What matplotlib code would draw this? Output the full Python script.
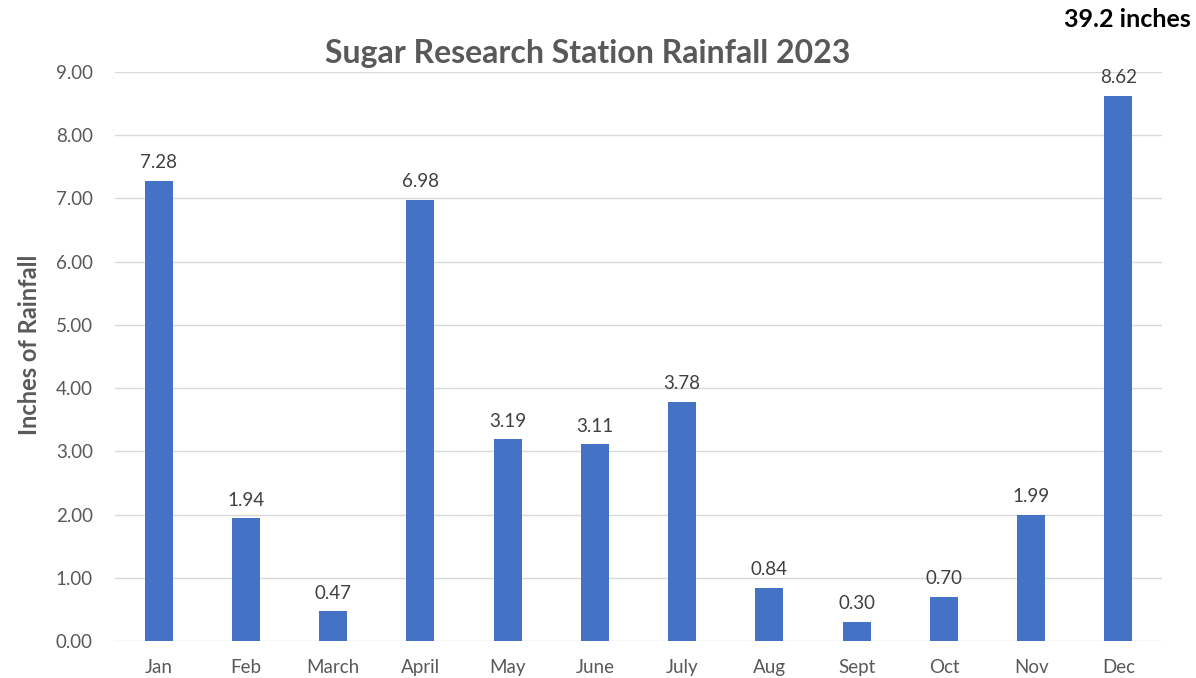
import matplotlib.pyplot as plt
import numpy as np

plt.rcParams['font.family'] = ['Lato', 'DejaVu Sans']

# monthly rainfall, inches
months = ['Jan', 'Feb', 'March', 'April', 'May', 'June', 'July', 'Aug', 'Sept', 'Oct', 'Nov', 'Dec']
rain = [7.28, 1.94, 0.47, 6.98, 3.19, 3.11, 3.78, 0.84, 0.30, 0.70, 1.99, 8.62]
total_label = '39.2 inches'

fig = plt.figure(figsize=(11.96, 6.78), dpi=100)
ax = fig.add_axes([0.0962, 0.0546, 0.8754, 0.8392])

x = np.arange(len(months))
bars = ax.bar(x, rain, width=0.32, color='#4472C4', zorder=3)
for b, v in zip(bars, rain):
    ax.annotate(f'{v:.2f}', (b.get_x() + b.get_width() / 2, v), xytext=(0, 7),
                textcoords='offset points', ha='center', va='bottom',
                fontsize=13.5, color='#404040')

ax.set_xlim(-0.5, len(months) - 0.5)
ax.set_ylim(0, 9)
ax.set_yticks(np.arange(0, 10, 1))
ax.set_yticklabels([f'{t:.2f}' for t in range(10)])
ax.set_xticks(x)
ax.set_xticklabels(months)
ax.tick_params(length=0, labelsize=13.5, labelcolor='#595959')
ax.tick_params(axis='x', pad=13)
ax.tick_params(axis='y', pad=16)
ax.grid(axis='y', color='#d9d9d9', lw=1, zorder=0)
for s in ax.spines.values():
    s.set_visible(False)

ax.set_ylabel('Inches of Rainfall', fontsize=17, fontweight='bold', color='#595959')
ax.yaxis.set_label_coords(-0.071, 0.52)
fig.text(0.491, 0.921, 'Sugar Research Station Rainfall 2023', ha='center', va='center',
         fontsize=23, fontweight='bold', color='#595959')
fig.text(0.996, 0.971, total_label, ha='right', va='center', fontsize=18,
         fontweight='bold', color='black')

plt.savefig('out.png', dpi=100)
